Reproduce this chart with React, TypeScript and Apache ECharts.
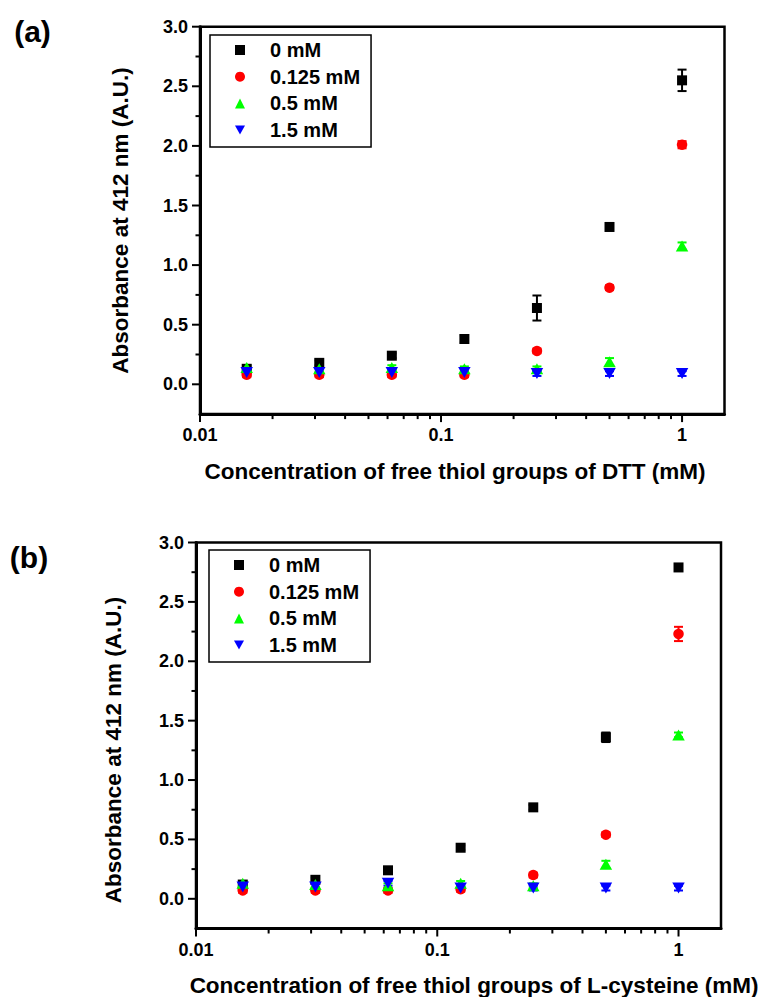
import React, { useEffect, useRef } from "react";
import * as echarts from "echarts";

const FONT = "'Liberation Sans', Arial, sans-serif";

// x values: concentration of free thiol groups (mM)
const X_CONC = [0.015625, 0.03125, 0.0625, 0.125, 0.25, 0.5, 1];
const SERIES_NAMES = ["0 mM", "0.125 mM", "0.5 mM", "1.5 mM"];
const COLORS = ["#000000", "#ff0000", "#00ff00", "#0000ff"];

// Panel (a): DTT
const DTT_0 = [0.13, 0.18, 0.24, 0.38, 0.64, 1.32, 2.55];
const DTT_0_ERR = [0.02, 0.02, 0.02, 0.03, 0.105, 0.03, 0.09];
const DTT_0125 = [0.08, 0.08, 0.08, 0.08, 0.28, 0.81, 2.01];
const DTT_0125_ERR = [0.02, 0.02, 0.02, 0.02, 0.02, 0.02, 0.03];
const DTT_05 = [0.14, 0.13, 0.14, 0.13, 0.13, 0.19, 1.16];
const DTT_05_ERR = [0.02, 0.02, 0.02, 0.02, 0.02, 0.03, 0.03];
const DTT_15 = [0.1, 0.1, 0.1, 0.1, 0.09, 0.09, 0.09];
const DTT_15_ERR = [0.03, 0.03, 0.03, 0.03, 0.02, 0.02, 0.02];

// Panel (b): L-cysteine
const CYS_0 = [0.12, 0.16, 0.24, 0.43, 0.77, 1.36, 2.79];
const CYS_0_ERR = [0.02, 0.02, 0.02, 0.02, 0.02, 0.04, 0.02];
const CYS_0125 = [0.07, 0.07, 0.07, 0.08, 0.2, 0.54, 2.23];
const CYS_0125_ERR = [0.02, 0.02, 0.02, 0.02, 0.02, 0.02, 0.06];
const CYS_05 = [0.13, 0.12, 0.11, 0.13, 0.11, 0.29, 1.38];
const CYS_05_ERR = [0.02, 0.02, 0.02, 0.02, 0.02, 0.03, 0.02];
const CYS_15 = [0.1, 0.1, 0.13, 0.09, 0.09, 0.09, 0.09];
const CYS_15_ERR = [0.03, 0.03, 0.02, 0.02, 0.02, 0.02, 0.02];

// axis ranges and ticks
const X_MIN = 0.01;
const X_MAX = 1.5;
const Y_MIN = -0.25;
const Y_MAX = 3.0;
const X_MAJOR_TICKS = [0.01, 0.1, 1];
const X_MINOR_TICKS = [0.02, 0.03, 0.04, 0.05, 0.06, 0.07, 0.08, 0.09, 0.2, 0.3, 0.4, 0.5, 0.6, 0.7, 0.8, 0.9];
const Y_MAJOR_TICKS = [0, 0.5, 1, 1.5, 2, 2.5, 3];
const Y_MINOR_TICKS = [0.25, 0.75, 1.25, 1.75, 2.25, 2.75];

const Y_TITLE = "Absorbance at 412 nm (A.U.)";
const X_TITLE_A = "Concentration of free thiol groups of DTT (mM)";
const X_TITLE_B = "Concentration of free thiol groups of L-cysteine (mM)";

const SYMBOLS = ["rect", "circle", "triangle", "triangle"];
const SYMBOL_ROTATE = [0, 0, 0, 180];
const SYMBOL_SIZE: any[] = [10, 10.5, [12.5, 11], [12.5, 11]];
const LEGEND_ICONS = ["rect", "circle", "triangle", "path://M0,0L10,0L5,9Z"];

const GRIDS = [
  { left: 200, top: 26.7, width: 524.5, height: 387.4 },
  { left: 196, top: 542.5, width: 525, height: 386 },
];

function errorRender(color: string) {
  return (params: any, api: any) => {
    const x = api.value(0);
    const y = api.value(1);
    const e = api.value(2);
    const top = api.coord([x, y + e]);
    const bot = api.coord([x, y - e]);
    const hw = 4.5;
    const style = { stroke: color, lineWidth: 2 };
    return {
      type: "group",
      children: [
        { type: "line", shape: { x1: top[0], y1: top[1], x2: bot[0], y2: bot[1] }, style },
        { type: "line", shape: { x1: top[0] - hw, y1: top[1], x2: top[0] + hw, y2: top[1] }, style },
        { type: "line", shape: { x1: bot[0] - hw, y1: bot[1], x2: bot[0] + hw, y2: bot[1] }, style },
      ],
    };
  };
}

function xTickRender(params: any, api: any) {
  const p = api.coord([api.value(0), api.value(1)]);
  const len = api.value(2);
  return {
    type: "line",
    shape: { x1: p[0], y1: p[1], x2: p[0], y2: p[1] + len },
    style: { stroke: "#000", lineWidth: 2 },
  };
}

function yTickRender(params: any, api: any) {
  const p = api.coord([api.value(0), api.value(1)]);
  const len = api.value(2);
  return {
    type: "line",
    shape: { x1: p[0] - len, y1: p[1], x2: p[0], y2: p[1] },
    style: { stroke: "#000", lineWidth: 2 },
  };
}

function panelSeries(i: number, vals: number[][], errs: number[][]) {
  const out: any[] = [];
  vals.forEach((v, k) => {
    out.push({
      name: SERIES_NAMES[k],
      type: "scatter",
      xAxisIndex: i,
      yAxisIndex: i,
      symbol: SYMBOLS[k],
      symbolRotate: SYMBOL_ROTATE[k],
      symbolSize: SYMBOL_SIZE[k],
      itemStyle: { color: COLORS[k], opacity: 1 },
      data: X_CONC.map((x, j) => [x, v[j]]),
      silent: true,
    });
    out.push({
      type: "custom",
      xAxisIndex: i,
      yAxisIndex: i,
      renderItem: errorRender(COLORS[k]),
      data: X_CONC.map((x, j) => [x, v[j], errs[k][j]]),
      silent: true,
    });
  });
  out.push({
    type: "custom",
    xAxisIndex: i,
    yAxisIndex: i,
    clip: false,
    renderItem: xTickRender,
    data: [
      ...X_MAJOR_TICKS.map((t) => [t, Y_MIN, 8]),
      ...X_MINOR_TICKS.map((t) => [t, Y_MIN, 5]),
    ],
    silent: true,
  });
  out.push({
    type: "custom",
    xAxisIndex: i,
    yAxisIndex: i,
    clip: false,
    renderItem: yTickRender,
    data: [
      ...Y_MAJOR_TICKS.map((t) => [X_MIN, t, 8]),
      ...Y_MINOR_TICKS.map((t) => [X_MIN, t, 4.5]),
    ],
    silent: true,
  });
  return out;
}

function legendFor(left: number, top: number) {
  return {
    data: SERIES_NAMES.map((n, k) => ({ name: n, icon: LEGEND_ICONS[k] })),
    orient: "vertical",
    left,
    top,
    itemWidth: 10,
    itemHeight: 10,
    itemGap: 6.7,
    padding: [5, 11, 7, 25],
    borderColor: "#000",
    borderWidth: 1.5,
    backgroundColor: "#fff",
    selectedMode: false,
    textStyle: {
      fontFamily: FONT,
      fontSize: 20,
      fontWeight: "bold",
      color: "#000",
      padding: [0, 0, 0, 20],
    },
  };
}

export default function App() {
  const ref = useRef<HTMLDivElement>(null);
  useEffect(() => {
    document.body.style.margin = "0";
    if (!ref.current) return;
    const chart = echarts.init(ref.current, undefined, { renderer: "svg" });
    const axisLabelStyle = {
      fontFamily: FONT,
      fontSize: 18,
      fontWeight: "bold",
      color: "#000",
    };
    const xAxes = [0, 1].map((i) => ({
      type: "log",
      logBase: 10,
      gridIndex: i,
      min: X_MIN,
      max: X_MAX,
      axisLine: { show: true, onZero: false, lineStyle: { color: "#000", width: 3 } },
      axisTick: { show: false },
      splitLine: { show: false },
      axisLabel: {
        ...axisLabelStyle,
        margin: 12,
        showMaxLabel: false,
        formatter: (v: number) => String(parseFloat((+v).toPrecision(6))),
      },
    }));
    const yAxes = [0, 1].map((i) => ({
      type: "value",
      gridIndex: i,
      min: Y_MIN,
      max: Y_MAX,
      interval: 0.25,
      axisLine: { show: true, onZero: false, lineStyle: { color: "#000", width: 3 } },
      axisTick: { show: false },
      splitLine: { show: false },
      axisLabel: {
        ...axisLabelStyle,
        margin: 12,
        formatter: (v: number) =>
          Math.abs(v * 2 - Math.round(v * 2)) < 1e-6 ? v.toFixed(1) : "",
      },
    }));
    const option: any = {
      animation: false,
      backgroundColor: "#fff",
      grid: GRIDS.map((g) => ({
        ...g,
        show: true,
        borderColor: "#000",
        borderWidth: 2.5,
        backgroundColor: "transparent",
        containLabel: false,
      })),
      xAxis: xAxes,
      yAxis: yAxes,
      legend: [legendFor(210, 35), legendFor(209, 550)],
      series: [
        ...panelSeries(
          0,
          [DTT_0, DTT_0125, DTT_05, DTT_15],
          [DTT_0_ERR, DTT_0125_ERR, DTT_05_ERR, DTT_15_ERR]
        ),
        ...panelSeries(
          1,
          [CYS_0, CYS_0125, CYS_05, CYS_15],
          [CYS_0_ERR, CYS_0125_ERR, CYS_05_ERR, CYS_15_ERR]
        ),
      ],
      graphic: [
        {
          type: "text",
          x: 32.5,
          y: 31.5,
          style: { text: "(a)", font: `bold 30px ${FONT}`, fill: "#000", align: "center", verticalAlign: "middle" },
        },
        {
          type: "text",
          x: 29,
          y: 557,
          style: { text: "(b)", font: `bold 30px ${FONT}`, fill: "#000", align: "center", verticalAlign: "middle" },
        },
        {
          type: "text",
          x: 120,
          y: 220.5,
          rotation: Math.PI / 2,
          style: { text: Y_TITLE, font: `bold 22.5px ${FONT}`, fill: "#000", align: "center", verticalAlign: "middle" },
        },
        {
          type: "text",
          x: 113,
          y: 750,
          rotation: Math.PI / 2,
          style: { text: Y_TITLE, font: `bold 22.5px ${FONT}`, fill: "#000", align: "center", verticalAlign: "middle" },
        },
        {
          type: "text",
          x: 455,
          y: 471,
          style: { text: X_TITLE_A, font: `bold 22.5px ${FONT}`, fill: "#000", align: "center", verticalAlign: "middle" },
        },
        {
          type: "text",
          x: 474,
          y: 985,
          style: { text: X_TITLE_B, font: `bold 22.5px ${FONT}`, fill: "#000", align: "center", verticalAlign: "middle" },
        },
      ],
    };
    chart.setOption(option);
    return () => chart.dispose();
  }, []);
  return <div ref={ref} style={{ width: 763, height: 997 }} />;
}
